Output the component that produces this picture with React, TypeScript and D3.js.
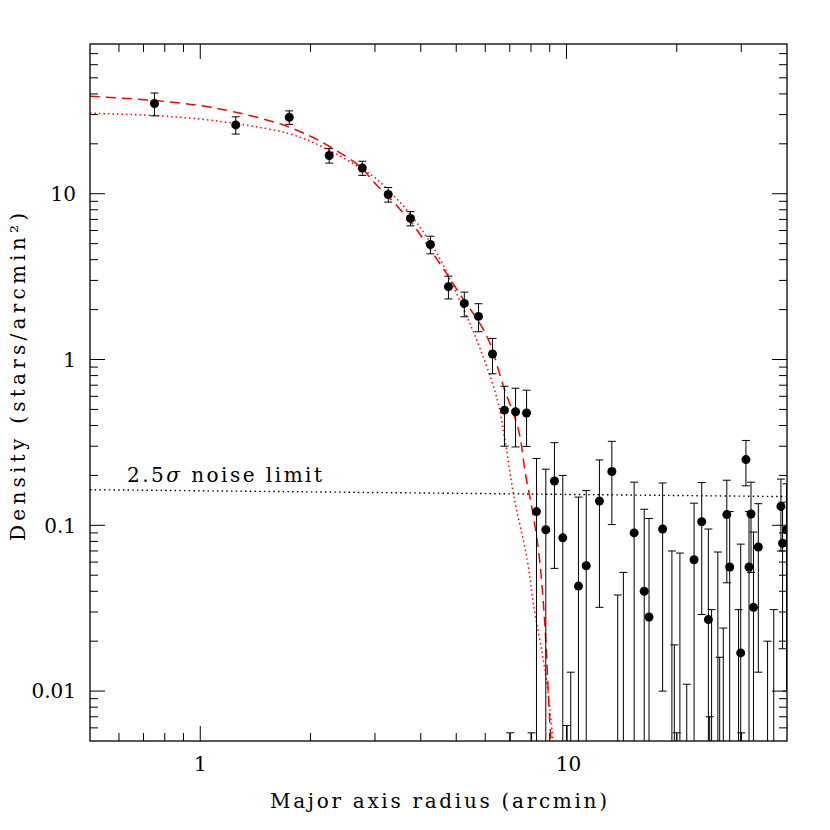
import React from 'react';
import * as d3 from 'd3';

// binned star counts along the major axis
const radius = [0.75, 1.25, 1.75, 2.25, 2.77, 3.26, 3.75, 4.25, 4.76, 5.26, 5.75, 6.28, 6.77, 7.26, 7.78, 8.28, 8.78, 9.27, 9.77, 10.78, 11.32, 12.3, 13.3, 15.3, 16.3, 16.8, 18.3, 22.3, 23.4, 24.4, 27.4, 27.9, 29.9, 30.9, 31.5, 31.9, 32.4, 33.4, 38.5, 38.9, 39.9];
const density = [35.0, 26.0, 28.9, 17.0, 14.3, 9.9, 7.1, 4.94, 2.75, 2.18, 1.82, 1.08, 0.495, 0.484, 0.476, 0.121, 0.094, 0.185, 0.084, 0.043, 0.057, 0.14, 0.211, 0.09, 0.04, 0.028, 0.095, 0.062, 0.105, 0.027, 0.116, 0.056, 0.017, 0.249, 0.056, 0.117, 0.032, 0.074, 0.13, 0.078, 0.094];
const sigma = [5.5, 3.1, 2.7, 1.7, 1.4, 1.0, 0.7, 0.6, 0.43, 0.37, 0.35, 0.26, 0.195, 0.187, 0.177, 0.132, 0.124, 0.13, 0.116, 0.105, 0.105, 0.108, 0.11, 0.092, 0.085, 0.082, 0.085, 0.074, 0.076, 0.068, 0.071, 0.065, 0.06, 0.076, 0.065, 0.065, 0.059, 0.061, 0.06, 0.06, 0.084];

// bins with no positive density: only the upper error is visible
const emptyRadius = [7.02, 8.03, 10.04, 10.27, 13.8, 14.3, 19.4, 19.7, 20.0, 20.4, 21.3, 24.6, 24.9, 25.9, 26.2, 26.8, 29.5, 30.0, 35.4, 36.8];
const emptyUpper = [0.0056, 0.0056, 0.0062, 0.013, 0.038, 0.052, 0.07, 0.019, 0.0056, 0.068, 0.011, 0.007, 0.031, 0.069, 0.016, 0.024, 0.031, 0.0056, 0.02, 0.031];

// fitted profiles
const dashRadius = [0.5, 0.75, 1.0, 1.25, 1.65, 2.0, 2.26, 2.75, 2.97, 3.26, 3.75, 4.25, 4.72, 5.23, 5.82, 6.2, 6.73, 7.39, 7.73, 8.06, 8.4, 8.71, 9.04, 9.16];
const dashDensity = [38.7, 36.5, 34.0, 31.0, 26.4, 22.2, 19.2, 14.4, 11.8, 9.6, 6.8, 4.6, 3.26, 2.3, 1.63, 1.23, 0.687, 0.378, 0.2025, 0.1245, 0.0683, 0.027, 0.0056, 0.004];
const dotRadius = [0.5, 0.75, 1.0, 1.25, 1.5, 1.75, 2.0, 2.26, 2.6, 2.97, 3.26, 3.75, 4.47, 5.24, 5.82, 6.47, 6.81, 7.18, 7.81, 8.14, 8.58, 8.86, 9.23];
const dotDensity = [30.6, 29.6, 28.2, 26.5, 24.8, 23.0, 20.7, 18.2, 15.3, 12.7, 10.5, 7.5, 4.2, 2.0, 1.149, 0.574, 0.3146, 0.15, 0.0622, 0.0325, 0.017, 0.0107, 0.0045];

// 2.5 sigma background level
const noiseRadius = [0.5, 40];
const noiseLevel = [0.164, 0.149];

const xTickLabels = [1, 10];
const yTickLabels = [0.01, 0.1, 1, 10];

const W = 830;
const H = 830;
const margin = { top: 44, right: 43, bottom: 89, left: 90 };
const font = 'DejaVu Serif, serif';

export default function App() {
  const left = margin.left;
  const right = W - margin.right;
  const top = margin.top;
  const bottom = H - margin.bottom;

  const x = d3.scaleLog().domain([0.5, 40]).range([left, right]);
  const y = d3.scaleLog().domain([0.005, 80]).range([bottom, top]);

  const isMajor = (v: number) => Math.abs(Math.log10(v) - Math.round(Math.log10(v))) < 1e-6;
  const xTicks = x.ticks().filter((v) => v > 0.5 && v < 40);
  const yTicks = y.ticks().filter((v) => v > 0.005 && v < 80);

  const line = d3
    .line<[number, number]>()
    .x((d) => x(d[0]))
    .y((d) => y(d[1]))
    .curve(d3.curveCatmullRom.alpha(0.5));

  const dashPath = line(dashRadius.map((r, i) => [r, dashDensity[i]]) as [number, number][]);
  const dotPath = line(dotRadius.map((r, i) => [r, dotDensity[i]]) as [number, number][]);
  const noisePath = d3
    .line<[number, number]>()
    .x((d) => x(d[0]))
    .y((d) => y(d[1]))(noiseRadius.map((r, i) => [r, noiseLevel[i]]) as [number, number][]);

  const cap = 4;
  const yClamp = (v: number) => (v > 0.005 ? y(v) : bottom);

  return (
    <div style={{ position: 'absolute', left: 0, top: 0 }}>
      <svg width={W} height={H} style={{ display: 'block', background: '#fff' }}>
        <defs>
          <clipPath id="plot">
            <rect x={left} y={top} width={right - left} height={bottom - top} />
          </clipPath>
        </defs>

        <g clipPath="url(#plot)">
          <path d={noisePath || ''} fill="none" stroke="#000" strokeWidth={1.4} strokeDasharray="1.5 3.2" />
          <path d={dotPath || ''} fill="none" stroke="#f00" strokeWidth={1.5} strokeDasharray="1.5 3" />
          <path d={dashPath || ''} fill="none" stroke="#f00" strokeWidth={1.5} strokeDasharray="10 6" />

          {emptyRadius.map((r, i) => {
            const cx = x(r);
            const yt = y(emptyUpper[i]);
            return (
              <g key={'e' + i} stroke="#000" strokeWidth={1}>
                <line x1={cx} x2={cx} y1={yt} y2={bottom} />
                <line x1={cx - cap} x2={cx + cap} y1={yt} y2={yt} />
              </g>
            );
          })}

          {radius.map((r, i) => {
            const cx = x(r);
            const hi = density[i] + sigma[i];
            const lo = density[i] - sigma[i];
            const yt = y(hi);
            const yb = yClamp(lo);
            return (
              <g key={'p' + i}>
                <g stroke="#000" strokeWidth={1}>
                  <line x1={cx} x2={cx} y1={yt} y2={yb} />
                  <line x1={cx - cap} x2={cx + cap} y1={yt} y2={yt} />
                  {lo > 0.005 && <line x1={cx - cap} x2={cx + cap} y1={yb} y2={yb} />}
                </g>
                <circle cx={cx} cy={y(density[i])} r={4.5} fill="#000" />
              </g>
            );
          })}
        </g>

        {/* frame */}
        <rect x={left} y={top} width={right - left} height={bottom - top} fill="none" stroke="#000" strokeWidth={1.3} />

        {/* ticks on all four sides */}
        <g stroke="#000" strokeWidth={1}>
          {xTicks.map((v, i) => {
            const len = isMajor(v) ? 15 : 8;
            const px = x(v);
            return (
              <g key={'xt' + i}>
                <line x1={px} x2={px} y1={bottom} y2={bottom - len} />
                <line x1={px} x2={px} y1={top} y2={top + len} />
              </g>
            );
          })}
          {yTicks.map((v, i) => {
            const len = isMajor(v) ? 15 : 8;
            const py = y(v);
            return (
              <g key={'yt' + i}>
                <line x1={left} x2={left + len} y1={py} y2={py} />
                <line x1={right} x2={right - len} y1={py} y2={py} />
              </g>
            );
          })}
        </g>

        {/* tick labels */}
        <g fontFamily={font} fontSize={20} fill="#000">
          {xTickLabels.map((v) => (
            <text key={'xl' + v} x={x(v) + (v >= 10 ? 2 : 0)} y={bottom + 30} textAnchor="middle">
              {String(v)}
            </text>
          ))}
          {yTickLabels.map((v) => (
            <text key={'yl' + v} x={left - 14} y={y(v)} dy="0.36em" textAnchor="end">
              {String(v)}
            </text>
          ))}
        </g>

        {/* axis titles */}
        <text
          x={(left + right) / 2}
          y={808}
          textAnchor="middle"
          fontFamily={font}
          fontSize={20}
          textLength={337}
          lengthAdjust="spacing"
        >
          Major axis radius (arcmin)
        </text>
        <text
          transform={`translate(25, 377) rotate(-90)`}
          textAnchor="middle"
          fontFamily={font}
          fontSize={20}
          textLength={328}
          lengthAdjust="spacing"
        >
          Density (stars/arcmin²)
        </text>

        <text x={127} y={482} fontFamily={font} fontSize={20} textLength={195} lengthAdjust="spacing">
          2.5<tspan fontStyle="italic">σ</tspan> noise limit
        </text>
      </svg>
    </div>
  );
}
